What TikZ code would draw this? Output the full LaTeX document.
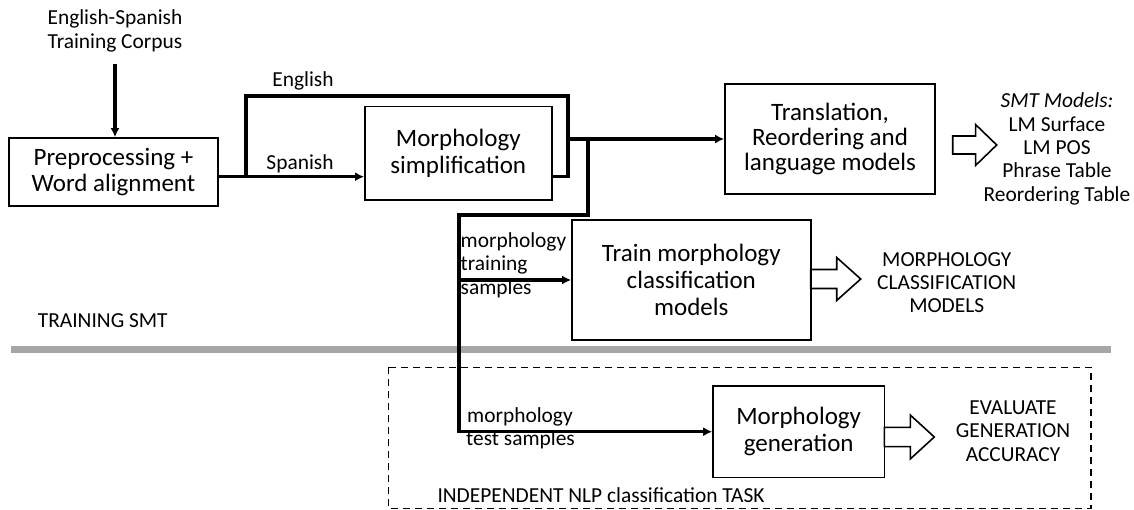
\documentclass[tikz,border=0pt]{standalone}
\usepackage{fontspec}
\setmainfont{Carlito}
\usetikzlibrary{arrows.meta}
\definecolor{bargrey}{RGB}{166,166,166}
\begin{document}
\begin{tikzpicture}[x=1pt,y=-1pt,
  bigtxt/.style={font=\fontsize{25}{26.7}\selectfont},
  smalltxt/.style={font=\fontsize{21.4}{23.3}\selectfont},
  procbox/.style={draw,line width=1.7pt,align=center,inner sep=0pt,bigtxt},
  conn/.style={line width=3.4pt},
  arr/.style={conn,-{Latex[length=9pt,width=9pt]}},
  lbl/.style={smalltxt,inner sep=0pt},
  harrow/.pic={\draw[line width=1.6pt,line join=miter] (0,-9.5) -- (26,-9.5) -- (26,-21.5) -- (50,0) -- (26,21.5) -- (26,9.5) -- (0,9.5) -- cycle;}
]
\useasboundingbox (0,0) rectangle (1134,510);

% boxes
\node[procbox,minimum width=209pt,minimum height=68pt] (pre) at (113.5,172) {Preprocessing +\\Word alignment};
\node[procbox,minimum width=186.7pt,minimum height=93.3pt] (simp) at (458.3,153.3) {Morphology\\simplification};
\node[procbox,minimum width=210pt,minimum height=110pt,font=\fontsize{25}{24.8}\selectfont] (trans) at (830,139) {Translation,\\Reordering and\\language models};
\node[procbox,minimum width=238.7pt,minimum height=120pt] (train) at (691.3,280) {Train morphology\\classification\\models};
\node[procbox,minimum width=171.3pt,minimum height=91.3pt] (gen) at (798.7,431.7) {Morphology\\generation};

% texts
\node[lbl,align=center] (corpus) at (115,31) {English-Spanish\\Training Corpus};
\node[lbl] (eng) at (303,81) {English};
\node[lbl] (spa) at (300,164) {Spanish};
\node[lbl,align=center] (smt) at (1057,149) {\textit{SMT Models:}\\LM Surface\\LM POS\\Phrase Table\\Reordering Table};
\node[lbl,align=center] (mcm) at (946.7,282.5) {MORPHOLOGY\\CLASSIFICATION\\MODELS};
\node[lbl,align=center] (eval) at (1013,431) {EVALUATE\\GENERATION\\ACCURACY};
\node[lbl,anchor=west] (tsmt) at (37.7,321) {TRAINING SMT};
\node[lbl,anchor=west,align=left] (mts) at (460.5,265) {morphology\\training\\samples};
\node[lbl,anchor=west,align=left] (mtest) at (466,428) {\hspace{1pt}morphology\\test samples};
\node[lbl,anchor=west] (indep) at (437.3,495) {INDEPENDENT NLP classification TASK};

% separator and dashed frame
\draw[line width=7pt,bargrey] (11,349.3) -- (1110.7,349.3);
\draw[line width=1.5pt,dash pattern=on 7pt off 5pt] (388.3,367.3) rectangle (1091,508.5);

% connectors
\coordinate (s1) at (246,176.7);
\coordinate (e1) at (246,96);
\coordinate (e2) at (568,96);
\coordinate (e3) at (568,176.7);
\coordinate (o1) at (568,139);
\coordinate (b1) at (588,139);
\coordinate (b2) at (588,215);
\coordinate (b3) at (459,215);
\coordinate (b4) at (459,431.7);
\coordinate (b5) at (459,280);

\draw[arr] (corpus.south|-0,64) -- (corpus.south|-pre.north);
\draw[conn] (pre.east|-s1) -- (s1);
\draw[arr] (s1) -- (simp.west|-s1);
\draw[conn,line join=miter] (s1) -- (e1) -- (e2) -- (e3) -- (simp.east|-e3);
\draw[arr] (o1) -- (trans.west);
\draw[conn,line join=miter] (b1) -- (b2) -- (b3) -- (b4);
\draw[arr] ([xshift=-1.7pt]b4) -- (gen.west);
\draw[arr] (b5) -- (train.west);

% hollow arrows
\pic[xscale=0.88,yscale=0.95] at (952.7,145) {harrow};
\pic at (810.7,279) {harrow};
\pic[yscale=1.02] at (884.3,437) {harrow};
\end{tikzpicture}
\end{document}
